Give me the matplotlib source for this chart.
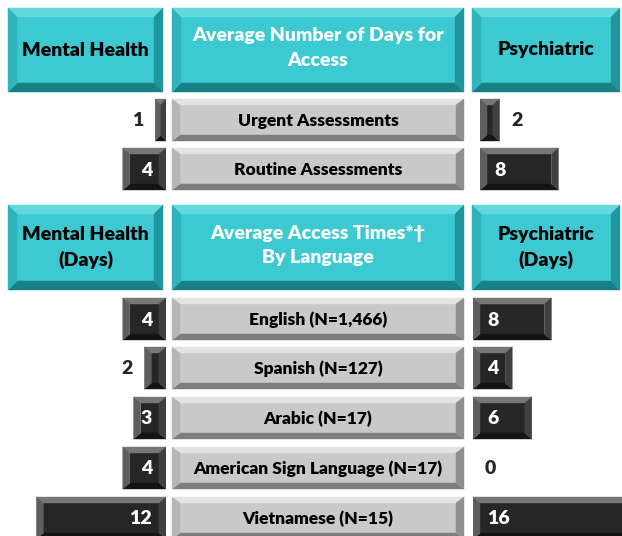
import matplotlib
matplotlib.use('Agg')
import matplotlib.pyplot as plt
from matplotlib.patches import Polygon

# values shown on the chart (days)
access_types = ['Urgent Assessments', 'Routine Assessments']
access_mh = [1, 4]
access_psych = [2, 8]

languages = ['English (N=1,466)', 'Spanish (N=127)', 'Arabic (N=17)',
             'American Sign Language (N=17)', 'Vietnamese (N=15)']
lang_mh = [4, 2, 3, 4, 12]
lang_psych = [8, 4, 6, 0, 16]

W, H = 622, 536
FONT = 'Lato'
WEIGHT = 'heavy'

TEAL = dict(face='#3cc9d1', top='#63d8de', left='#30b3ba', right='#1f969d', bottom='#1a8087')
GRAY = dict(face='#c9c9c9', top='#e3e3e3', left='#b6b6b6', right='#8f8f8f', bottom='#7d7d7d')
DARK = dict(face='#262626', top='#777777', left='#5e5e5e', right='#404040', bottom='#141414')


def bevel_box(ax, x0, x1, y0, y1, pal, bx, by):
    # x0 = screen-left edge, y0 = top edge (y axis runs downward)
    sx = 1 if x1 >= x0 else -1
    bx = min(bx, abs(x1 - x0) / 2) * sx
    by = min(by, abs(y1 - y0) / 2)
    ix0, ix1, iy0, iy1 = x0 + bx, x1 - bx, y0 + by, y1 - by
    parts = [
        ([(ix0, iy0), (ix1, iy0), (ix1, iy1), (ix0, iy1)], pal['face']),
        ([(x0, y0), (x1, y0), (ix1, iy0), (ix0, iy0)], pal['top']),
        ([(x0, y1), (x1, y1), (ix1, iy1), (ix0, iy1)], pal['bottom']),
        ([(x0, y0), (ix0, iy0), (ix0, iy1), (x0, y1)], pal['left']),
        ([(x1, y0), (x1, y1), (ix1, iy1), (ix1, iy0)], pal['right']),
    ]
    for pts, c in parts:
        ax.add_patch(Polygon(pts, closed=True, facecolor=c, edgecolor=c, lw=0.3))


fig = plt.figure(figsize=(W / 100, H / 100), dpi=100)
bg = fig.add_axes([0, 0, 1, 1])
bg.set_xlim(0, W)
bg.set_ylim(H, 0)
bg.axis('off')

# header rows
headers = [
    (8, 92, 'Mental Health', 'Average Number of Days for\nAccess', 'Psychiatric'),
    (205, 290, 'Mental Health\n(Days)', 'Average Access Times*\u2020\nBy Language', 'Psychiatric\n(Days)'),
]
for y0, y1, lt, ct, rt in headers:
    for (x0, x1), txt, col in [((8, 163), lt, 'black'), ((172, 464), ct, 'white'),
                               ((472, 620), rt, 'black')]:
        bevel_box(bg, x0, x1, y0, y1, TEAL, 9, 9)
        dy = -2 if col == 'white' else 0
        bg.text((x0 + x1) / 2, (y0 + y1) / 2 + dy, txt, ha='center', va='center',
                color=col, fontsize=14, fontweight=WEIGHT, family=FONT, linespacing=1.5)

top_rows = [120, 169]
bot_rows = [319, 368, 418, 468, 518]
half = 21

for cats, ys in [(access_types, top_rows), (languages, bot_rows)]:
    for cat, yc in zip(cats, ys):
        bevel_box(bg, 172, 464, yc - half, yc + half, GRAY, 8, 6)
        bg.text(318, yc + 1, cat, ha='center', va='center', color='black',
                fontsize=12.5, fontweight=WEIGHT, family=FONT)


def side_axes(origin, side, ppd):
    if side == 'left':
        ax = fig.add_axes([0, 0, origin / W, 1])
        ax.set_xlim(origin / ppd, 0)
    else:
        ax = fig.add_axes([origin / W, 0, (W - origin) / W, 1])
        ax.set_xlim(0, (W - origin) / ppd)
    ax.set_ylim(H, 0)
    ax.axis('off')
    return ax


def draw_bars(ax, vals, ys, side, ppd):
    for v, yc in zip(vals, ys):
        if v > 0:
            if side == 'left':
                bevel_box(ax, v, 0, yc - half, yc + half, DARK, 7 / ppd, 6)
            else:
                bevel_box(ax, 0, v, yc - half, yc + half, DARK, 7 / ppd, 6)
        length = v * ppd
        kw = dict(va='center', fontsize=14, fontweight=WEIGHT, family=FONT)
        if length >= 28:
            pos = 14 / ppd
            ax.text(pos, yc + 1, str(v), ha='right' if side == 'left' else 'left',
                    color='white', **kw)
        else:
            pos = v + 12 / ppd
            ax.text(pos, yc + 1, str(v), ha='right' if side == 'left' else 'left',
                    color='#262626', **kw)


PPD_L = 10.8
PPD_R = 9.8
ax_l = side_axes(166, 'left', PPD_L)
draw_bars(ax_l, access_mh, top_rows, 'left', PPD_L)
draw_bars(ax_l, lang_mh, bot_rows, 'left', PPD_L)

ax_rt = side_axes(480, 'right', PPD_R)
draw_bars(ax_rt, access_psych, top_rows, 'right', PPD_R)
ax_rb = side_axes(473, 'right', PPD_R)
draw_bars(ax_rb, lang_psych, bot_rows, 'right', PPD_R)

fig.savefig('out.png', dpi=100)
